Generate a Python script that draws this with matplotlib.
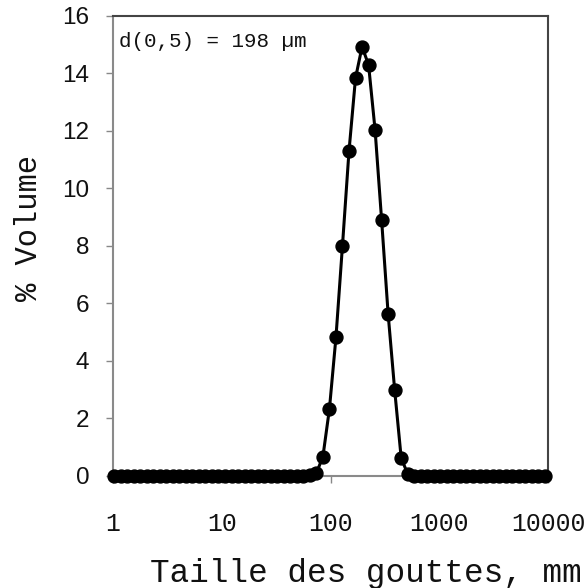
import matplotlib
matplotlib.use("Agg")
import matplotlib.pyplot as plt

# Droplet size (log-spaced classes) and % volume
taille = [1.023, 1.175, 1.349, 1.549, 1.778, 2.042, 2.344, 2.692, 3.090, 3.548,
          4.074, 4.677, 5.370, 6.166, 7.079, 8.128, 9.333, 10.72, 12.30, 14.13,
          16.22, 18.62, 21.38, 24.55, 28.18, 32.36, 37.15, 42.66, 48.98, 56.23,
          64.57, 74.13, 85.11, 97.72, 112.2, 128.8, 147.9, 169.8, 195.0, 223.9,
          257.0, 295.1, 338.8, 389.0, 446.7, 512.9, 588.8, 676.1, 776.2, 891.3,
          1023, 1175, 1349, 1549, 1778, 2042, 2344, 2692, 3090, 3548,
          4074, 4677, 5370, 6166, 7079, 8128, 9333]
volume = [0, 0, 0, 0, 0, 0, 0, 0, 0, 0,
          0, 0, 0, 0, 0, 0, 0, 0, 0, 0,
          0, 0, 0, 0, 0, 0, 0, 0, 0, 0,
          0.02, 0.10, 0.67, 2.33, 4.82, 8.01, 11.30, 13.84, 14.93, 14.30,
          12.03, 8.90, 5.63, 2.99, 0.62, 0.07, 0, 0, 0, 0,
          0, 0, 0, 0, 0, 0, 0, 0, 0, 0,
          0, 0, 0, 0, 0, 0, 0]

x_ticks = [1, 10, 100, 1000, 10000]
x_tick_labels = ["1", "10", "100", "1000", "10000"]
y_ticks = [0, 2, 4, 6, 8, 10, 12, 14, 16]
annotation = "d(0,5) = 198 µm"
x_label = "Taille des gouttes, mm"
y_label = "% Volume"

mono = "Liberation Mono"
sans = "Liberation Sans"

fig = plt.figure(figsize=(5.87, 5.88), dpi=100)
ax = fig.add_axes([0.1925, 0.1905, 0.7411, 0.7823])

ax.plot(taille, volume, color="black", lw=2.2, marker="o", ms=9.3,
        markerfacecolor="black", markeredgecolor="black", clip_on=False, zorder=3)

ax.set_xscale("log")
ax.set_xlim(1, 10000)
ax.set_ylim(0, 16)
ax.set_xticks(x_ticks)
ax.set_xticklabels(x_tick_labels, fontfamily=mono, fontsize=17.8, color="#111111")
ax.minorticks_off()
ax.set_yticks(y_ticks)
ax.set_yticklabels([str(v) for v in y_ticks], fontfamily=sans, fontsize=17.5, color="#111111")

ax.tick_params(axis="x", direction="out", length=5, width=1, color="#888888", pad=21)
ax.tick_params(axis="y", direction="out", length=5, width=1, color="#888888", pad=12)

for side in ("left", "bottom"):
    ax.spines[side].set_color("#8a8a8a")
    ax.spines[side].set_linewidth(1.5)
for side in ("top", "right"):
    ax.spines[side].set_color("#444444")
    ax.spines[side].set_linewidth(1.5)

ax.set_xlabel(x_label, fontfamily=mono, fontsize=23.5, color="#111111")
ax.xaxis.set_label_coords(0.582, -0.178)
ax.set_ylabel(y_label, fontfamily=mono, fontsize=22, color="#111111")
ax.yaxis.set_label_coords(-0.158, 0.539)

ax.text(0.013, 0.966, annotation, transform=ax.transAxes, ha="left", va="top",
        fontfamily=mono, fontsize=15, color="#111111")

fig.savefig("out.png", dpi=100)
